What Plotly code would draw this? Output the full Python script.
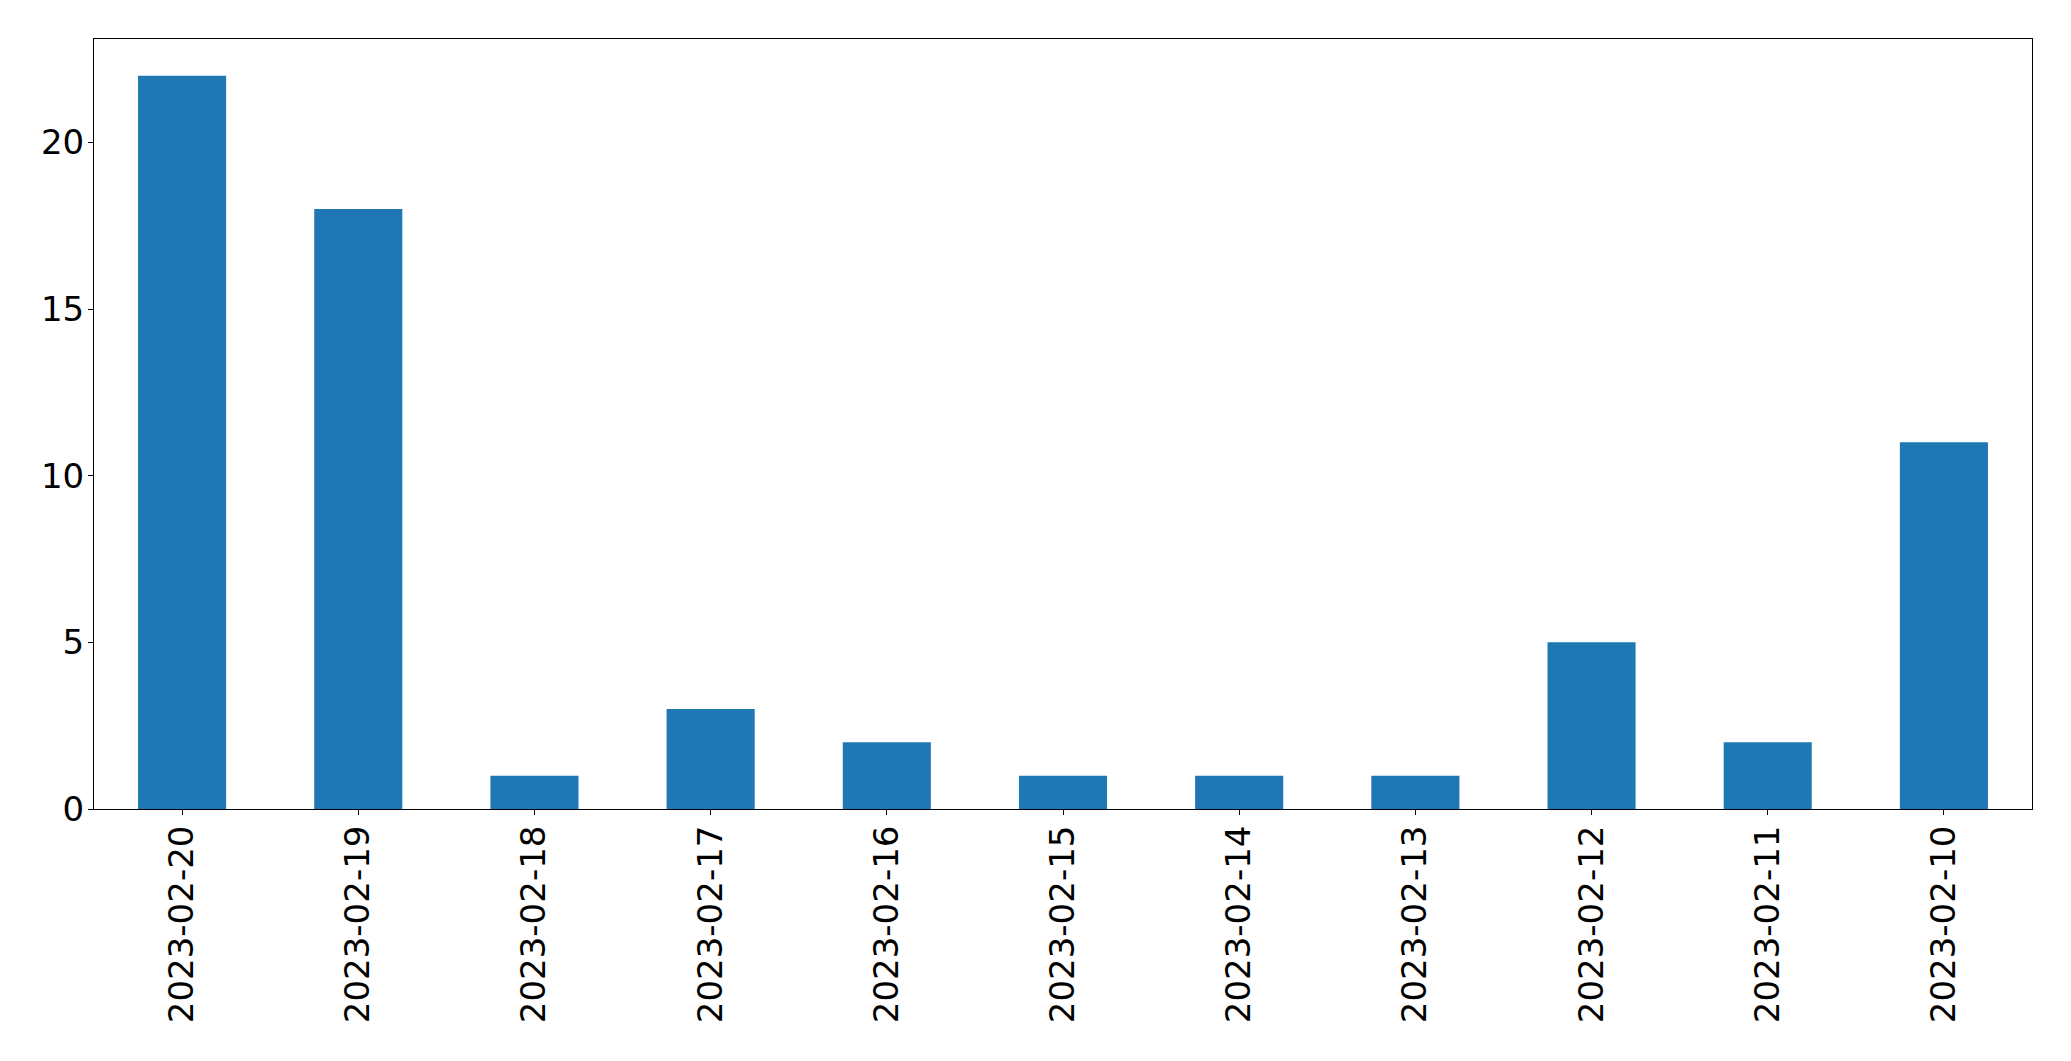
import plotly.graph_objects as go

dates = ["2023-02-20", "2023-02-19", "2023-02-18", "2023-02-17", "2023-02-16",
         "2023-02-15", "2023-02-14", "2023-02-13", "2023-02-12", "2023-02-11",
         "2023-02-10"]
counts = [22, 18, 1, 3, 2, 1, 1, 1, 5, 2, 11]
ytick_vals = [0, 5, 10, 15, 20]

fig = go.Figure(go.Bar(x=dates, y=counts, width=0.5, marker_color="#1f77b4",
                       marker_line_width=0))

font = dict(family="DejaVu Sans", size=34, color="black")
fig.update_layout(
    width=2055, height=1045,
    margin=dict(l=86, r=31, t=31, b=244),
    paper_bgcolor="white", plot_bgcolor="white",
    showlegend=False,
    font=font,
)
fig.update_xaxes(type="category", range=[-0.5, 10.5], tickangle=-90,
                 showline=True, linecolor="black", linewidth=1, mirror=True,
                 ticks="outside", ticklen=5, tickwidth=1, tickcolor="black",
                 showgrid=False, zeroline=False, tickfont=font,
                 ticklabelstandoff=-3)
fig.update_yaxes(range=[0, 23.1], tickvals=ytick_vals,
                 showline=True, linecolor="black", linewidth=1, mirror=True,
                 ticks="outside", ticklen=5, tickwidth=1, tickcolor="black",
                 showgrid=False, zeroline=False, tickfont=font,
                 ticklabelstandoff=-3)

fig.write_html("out.html")
